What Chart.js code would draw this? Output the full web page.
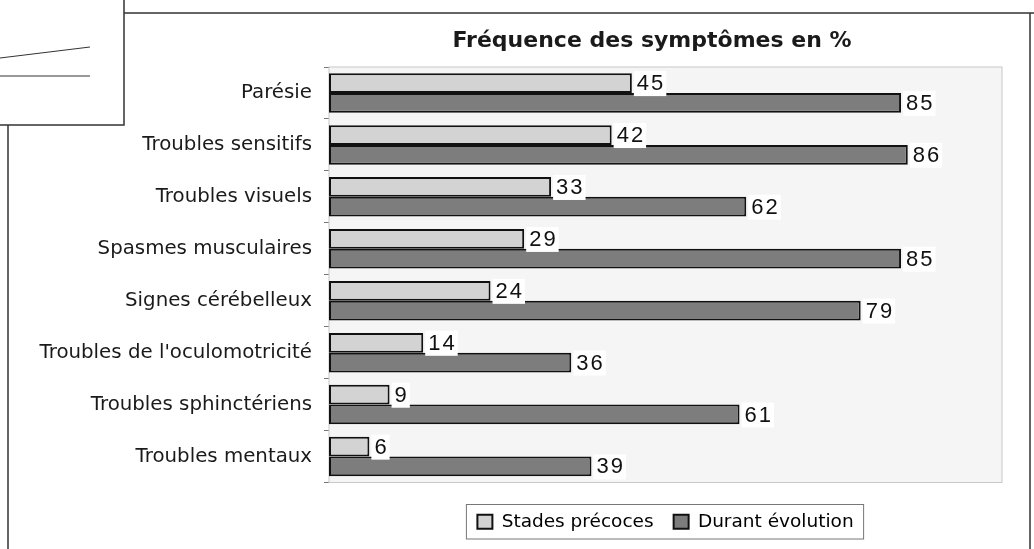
<!DOCTYPE html>
<html>
<head>
<meta charset="utf-8">
<script src="https://cdn.jsdelivr.net/npm/chart.js@4/dist/chart.umd.min.js"></script>
<style>
  html, body { margin: 0; padding: 0; background: #fff; }
  #wrap { width: 1034px; height: 549px; position: relative; }
</style>
</head>
<body>
<div id="wrap"><canvas id="myChart" width="1034" height="549"></canvas></div>
<script>
const categories = [
  "Parésie",
  "Troubles sensitifs",
  "Troubles visuels",
  "Spasmes musculaires",
  "Signes cérébelleux",
  "Troubles de l'oculomotricité",
  "Troubles sphinctériens",
  "Troubles mentaux"
];
const earlyStage = [45, 42, 33, 29, 24, 14, 9, 6];
const duringCourse = [85, 86, 62, 85, 79, 36, 61, 39];
const seriesNames = ["Stades précoces", "Durant évolution"];
const chartTitle = "Fréquence des symptômes en %";

// scanned page: frame lines around the chart and the bit of paper top-left
const pageFrame = {
  id: "pageFrame",
  beforeDraw(chart) {
    const ctx = chart.ctx;
    ctx.save();
    ctx.strokeStyle = "#333";
    ctx.lineWidth = 1.5;
    ctx.beginPath();
    ctx.moveTo(124, 0); ctx.lineTo(124, 13); ctx.lineTo(1034, 13);
    ctx.moveTo(124, 13); ctx.lineTo(124, 125); ctx.lineTo(0, 125);
    ctx.moveTo(8, 125); ctx.lineTo(8, 549);
    ctx.moveTo(1030, 13); ctx.lineTo(1030, 549);
    ctx.stroke();
    ctx.lineWidth = 1;
    ctx.beginPath();
    ctx.moveTo(0, 58); ctx.lineTo(90, 47);
    ctx.moveTo(0, 76); ctx.lineTo(90, 76);
    ctx.stroke();
    ctx.restore();
  }
};

const plotBox = {
  id: "plotBox",
  beforeDatasetsDraw(chart) {
    const a = chart.chartArea;
    const ctx = chart.ctx;
    ctx.save();
    ctx.fillStyle = "#f5f5f5";
    ctx.fillRect(a.left, a.top, a.right - a.left, a.bottom - a.top);
    ctx.strokeStyle = "#c8c8c8";
    ctx.lineWidth = 1;
    ctx.strokeRect(a.left, a.top, a.right - a.left, a.bottom - a.top);
    ctx.restore();
  },
  afterDraw(chart) {
    const ctx = chart.ctx;
    ctx.save();
    ctx.fillStyle = "#1a1a1a";
    ctx.font = "bold 22px 'DejaVu Sans'";
    ctx.textAlign = "center";
    ctx.textBaseline = "middle";
    ctx.fillText(chartTitle, 652, 41);
    // border round the legend
    const boxes = chart.legend.legendHitBoxes;
    if (boxes && boxes.length) {
      const first = boxes[0], last = boxes[boxes.length - 1];
      const x1 = first.left - 11, x2 = last.left + last.width + 10;
      const y1 = first.top - 8, y2 = first.top + first.height + 8;
      ctx.strokeStyle = "#777";
      ctx.lineWidth = 1;
      ctx.strokeRect(x1, y1, x2 - x1, y2 - y1);
    }
    ctx.restore();
  }
};

const valueLabels = {
  id: "valueLabels",
  afterDatasetsDraw(chart) {
    const ctx = chart.ctx;
    ctx.save();
    ctx.font = "22px 'Liberation Sans'";
    ctx.letterSpacing = "2px";
    ctx.textBaseline = "middle";
    ctx.textAlign = "left";
    chart.data.datasets.forEach((ds, i) => {
      chart.getDatasetMeta(i).data.forEach((bar, j) => {
        const txt = String(ds.data[j]);
        const w = ctx.measureText(txt).width;
        ctx.fillStyle = "#fff";
        ctx.fillRect(bar.x + 2, bar.y - 12, w + 4, 25);
        ctx.fillStyle = "#111";
        ctx.fillText(txt, bar.x + 5, bar.y + 1);
      });
    });
    ctx.restore();
  }
};

new Chart("myChart", {
  type: "bar",
  data: {
    labels: categories,
    datasets: [
      {
        label: seriesNames[0],
        data: earlyStage,
        backgroundColor: "#d3d3d3",
        borderColor: "#111",
        borderWidth: 2,
        borderSkipped: false
      },
      {
        label: seriesNames[1],
        data: duringCourse,
        backgroundColor: "#7d7d7d",
        borderColor: "#111",
        borderWidth: 2,
        borderSkipped: false
      }
    ]
  },
  options: {
    indexAxis: "y",
    responsive: false,
    animation: false,
    devicePixelRatio: 1,
    layout: { padding: { left: 0, right: 32, top: 67, bottom: 8 } },
    datasets: { bar: { categoryPercentage: 0.76, barPercentage: 1.0 } },
    scales: {
      x: {
        display: true, min: 0, max: 100,
        ticks: { display: false },
        grid: { display: false, drawTicks: false },
        border: { display: false },
        afterFit(scale) { scale.height = 10; }
      },
      y: {
        afterFit(scale) { scale.width = 329; },
        grid: { drawOnChartArea: false, tickLength: 5, color: "#777", offset: true },
        border: { color: "#888" },
        ticks: { padding: 12, color: "#1a1a1a", font: { family: "DejaVu Sans", size: 19.8 } }
      }
    },
    plugins: {
      title: { display: false },
      tooltip: { enabled: false },
      legend: {
        position: "bottom",
        fullSize: false,
        labels: {
          color: "#1a1a1a",
          boxWidth: 15,
          boxHeight: 14,
          padding: 20,
          font: { family: "DejaVu Sans", size: 18.5 },
          generateLabels(chart) {
            return chart.data.datasets.map((ds, i) => ({
              text: ds.label,
              fillStyle: ds.backgroundColor,
              strokeStyle: "#111",
              lineWidth: 2,
              datasetIndex: i
            }));
          }
        }
      }
    }
  },
  plugins: [pageFrame, plotBox, valueLabels]
});
</script>
</body>
</html>
